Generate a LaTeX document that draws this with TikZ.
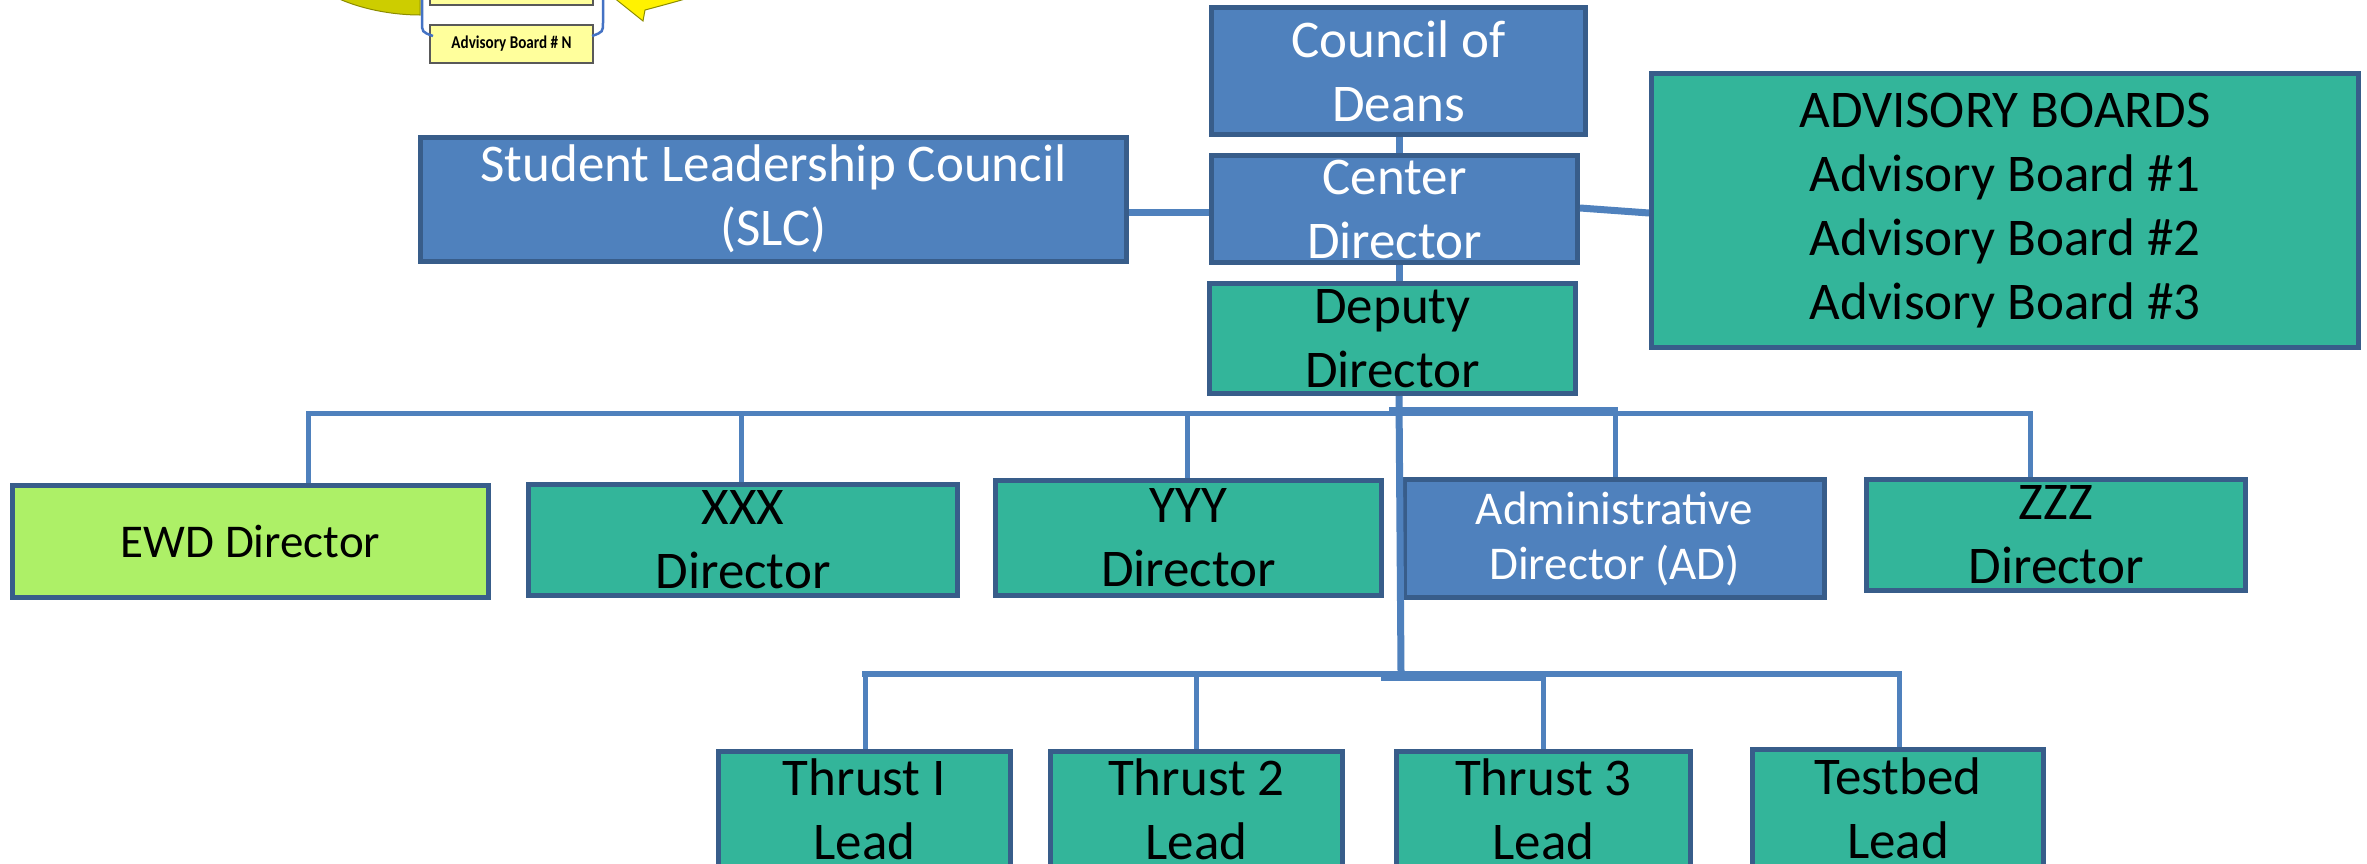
\documentclass[tikz,border=0pt]{standalone}
\usepackage{fontspec}
\setmainfont{Carlito}
\definecolor{blu}{HTML}{4F81BD}
\definecolor{bordc}{HTML}{385D8A}
\definecolor{tealf}{HTML}{33B59A}
\definecolor{limef}{HTML}{ADF067}
\definecolor{olivef}{HTML}{CDCD00}
\definecolor{olived}{HTML}{8C8C00}
\definecolor{paley}{HTML}{FFFF9C}
\definecolor{brk}{HTML}{4472C4}
\tikzset{
  box/.style={draw=bordc, line width=5pt, inner sep=0pt, align=center,
    font=\fontsize{53}{64}\selectfont},
  bluebox/.style={box, fill=blu, text=white},
  tealbox/.style={box, fill=tealf, text=black},
  limebox/.style={box, fill=limef, text=black},
  conn/.style={draw=blu, line width=7pt},
  drop/.style={draw=blu, line width=5pt},
  smallbox/.style={draw=gray!70!black, line width=1.2pt, fill=paley, inner sep=0pt,
    minimum width=163pt, minimum height=38pt, font=\fontsize{18}{20}\selectfont\bfseries}
}
\begin{document}
\begin{tikzpicture}[x=1pt,y=-1pt]
\useasboundingbox (0,0) rectangle (2367,863);
\clip (0,0) rectangle (2367,863);
\fill[white] (0,0) rectangle (2367,863);

% --- cropped fragment at top left ---
\filldraw[fill=olivef, draw=olived, line width=1pt]
  (335,-3) .. controls (360,9) and (392,15) .. (420,15) -- (420,-3) -- cycle;
\node[smallbox, minimum height=14pt] (ybox) at (511.5,-2) {};
\node[smallbox] (abn) at (511.5,44) {\scalebox{0.84}[1]{Advisory Board \# N}};
\draw[brk, line width=2.5pt] (422,-3) -- (422,22) .. controls (422,32) .. (433,36);
\draw[brk, line width=2.5pt] (603,-3) -- (603,22) .. controls (603,32) .. (592,36);
\filldraw[fill=yellow, draw=olived, line width=1pt]
  (613,-3) -- (643,21) -- (645,10) .. controls (660,6) and (675,2) .. (692,-3) -- cycle;

% --- boxes ---
\node[bluebox, minimum width=374pt, minimum height=127pt] (council) at (1398.5,71) {Council of\\Deans};
\node[bluebox, minimum width=366pt, minimum height=107pt] (center) at (1394.5,209) {Center\\Director};
\node[tealbox, minimum width=366pt, minimum height=110pt] (deputy) at (1392.5,338.5) {Deputy\\Director};
\node[bluebox, minimum width=706pt, minimum height=124pt] (slc) at (773.5,199) {Student Leadership Council\\(SLC)};
\node[tealbox, minimum width=707pt, minimum height=274pt] (adv) at (2005,210.5)
  {ADVISORY BOARDS\\Advisory Board \#1\\Advisory Board \#2\\Advisory Board \#3};

\node[limebox, minimum width=476pt, minimum height=112pt, font=\fontsize{47}{56}\selectfont] (ewd) at (250.5,541.5) {EWD Director};
\node[tealbox, minimum width=429pt, minimum height=111pt] (xxx) at (743,540) {XXX\\Director};
\node[tealbox, minimum width=386pt, minimum height=115pt] (yyy) at (1188.5,538) {YYY\\Director};
\node[bluebox, minimum width=420pt, minimum height=118pt, font=\fontsize{47}{55}\selectfont] (admin) at (1614.5,538.5) {Administrative\\Director (AD)};
\node[tealbox, minimum width=379pt, minimum height=111pt] (zzz) at (2056,535) {ZZZ\\Director};

\node[tealbox, minimum width=292pt, minimum height=116pt] (t1) at (864.5,809.5) {Thrust I\\Lead};
\node[tealbox, minimum width=292pt, minimum height=116pt] (t2) at (1196.5,809.5) {Thrust 2\\Lead};
\node[tealbox, minimum width=294pt, minimum height=116pt] (t3) at (1543.5,809.5) {Thrust 3\\Lead};
\node[tealbox, minimum width=291pt, minimum height=118pt] (tb) at (1898,808.5) {Testbed\\Lead};

% --- connectors ---
\coordinate (tx) at (1399,0);
\coordinate (sly) at (0,212);
\draw[conn] (council.south -| tx) -- (center.north -| tx);
\draw[conn] (center.south -| tx) -- (deputy.north -| tx);
\draw[conn] (slc.east |- sly) -- (center.west |- sly);
\draw[conn] (center.east |- 0,208) -- (adv.west |- 0,213);

% upper bus
\coordinate (b1) at (308,413);
\coordinate (b2) at (741,413);
\coordinate (b3) at (1187,413);
\coordinate (b4) at (1615,413);
\coordinate (b5) at (2030,413);
\draw[drop, line cap=rect] (b1) -- (b5);
\draw[drop] (1389,409) -- (b4 |- 0,409);
\draw[drop] (b1) -- (b1 |- ewd.north);
\draw[drop] (b2) -- (b2 |- xxx.north);
\draw[drop] (b3) -- (b3 |- yyy.north);
\draw[drop] (b4 |- 0,407) -- (b4 |- admin.north);
\draw[drop] (b5) -- (b5 |- zzz.north);

% trunk
\coordinate (tbot) at (1401,672);
\draw[conn] (deputy.south -| tx) -- (tbot);

% lower bus
\coordinate (c1) at (865,674);
\coordinate (c2) at (1196,674);
\coordinate (c3) at (1543,674);
\coordinate (c4) at (1899,674);
\draw[drop, line width=6pt, line cap=rect] (c1) -- (c4);
\draw[drop, line width=8pt] (1381,677) -- (c3 |- 0,677);
\draw[drop] (c1) -- (c1 |- t1.north);
\draw[drop] (c2) -- (c2 |- t2.north);
\draw[drop] (c3) -- (c3 |- t3.north);
\draw[drop] (c4) -- (c4 |- tb.north);
\end{tikzpicture}
\end{document}
